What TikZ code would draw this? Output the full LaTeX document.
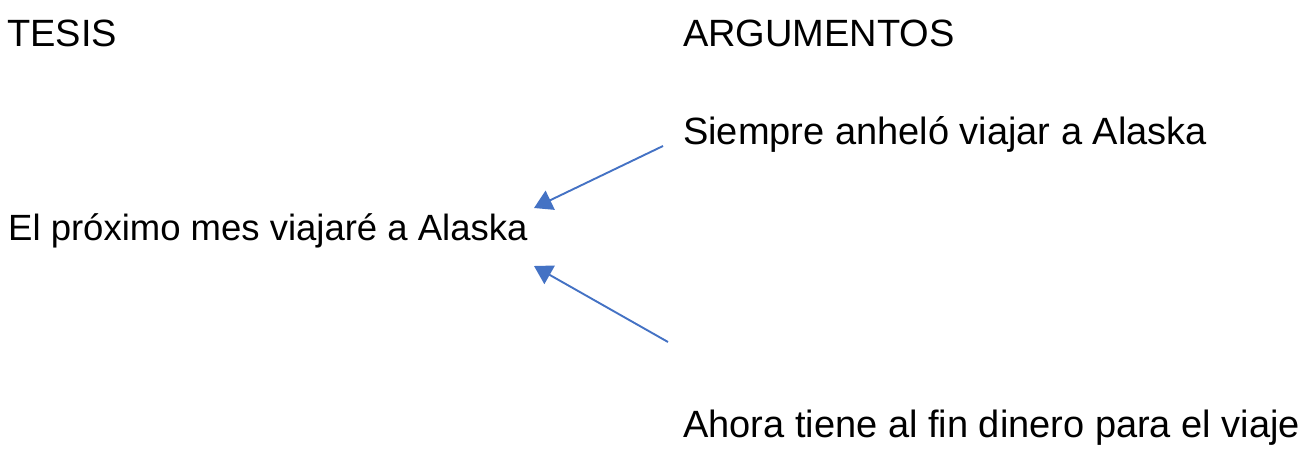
\documentclass[tikz,border=0pt]{standalone}
\usepackage{fontspec}
\setmainfont{Liberation Sans}
\usetikzlibrary{arrows.meta}
\definecolor{arrowblue}{RGB}{68,114,196}
\begin{document}
\begin{tikzpicture}[x=1pt,y=-1pt,
  txt/.style={anchor=base west,inner sep=0pt,font=\fontsize{38}{45}\selectfont},
  conn/.style={draw=arrowblue,line width=1.9pt,-{Triangle[length=18pt,width=21pt]}}]
\useasboundingbox (0,0) rectangle (1311,457);
\node[txt] (tesis) at (7,47) {TESIS};
\node[txt] (arg) at (683,47) {ARGUMENTOS};
\node[txt] (a1) at (683,145) {Siempre anheló viajar a Alaska};
\node[txt,font=\fontsize{36.5}{44}\selectfont] (t) at (8,240) {El próximo mes viajaré a Alaska};
\node[txt] (a2) at (683,437) {Ahora tiene al fin dinero para el viaje};
\coordinate (s1) at (663,146);
\coordinate (e1) at (534,208);
\coordinate (s2) at (668,342);
\coordinate (e2) at (534,266);
\draw[conn] (s1) -- (e1);
\draw[conn] (s2) -- (e2);
\end{tikzpicture}
\end{document}
